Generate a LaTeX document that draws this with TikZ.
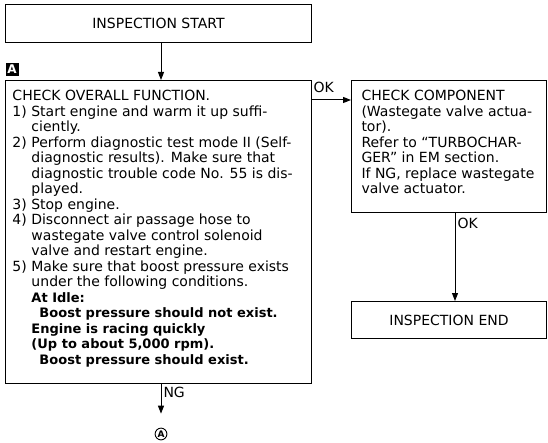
\documentclass[tikz,border=0pt]{standalone}
\usepackage{fontspec}
\setmainfont{DejaVu Sans}
\usetikzlibrary{arrows.meta}

\tikzset{
  box/.style={draw, line width=1pt, anchor=north west, inner sep=0pt,
    font=\fontsize{14}{15.5}\selectfont},
  flow/.style={line width=1pt, -{Triangle[length=8pt,width=6pt]}},
  lbl/.style={font=\fontsize{14}{15.5}\selectfont, inner sep=2pt},
}
\newcommand\hang{\hspace*{19pt}}
\newcommand\hot[1]{{\bfseries\fontsize{13}{15.5}\selectfont #1}}

\begin{document}
\begin{tikzpicture}[x=1pt,y=-1pt]
  \useasboundingbox (0,0) rectangle (548,443);
  \coordinate (tap)   at (161,0);
  \coordinate (tap2)  at (455,0);
  \coordinate (okrow) at (0,100);

  \node[box, minimum width=306pt, minimum height=38pt] at (5,4) (start) {INSPECTION START};
  \node[fill=black, text=white, font=\bfseries\fontsize{12}{12}\selectfont,
    minimum width=13pt, minimum height=13pt, inner sep=0pt] at (12,69.5) (mark) {A};
  % overall function check
  \node[box, inner xsep=7pt, inner ysep=10pt] at (5,80) (main) {\parbox[t][283pt][t]{292pt}{\raggedright
    CHECK OVERALL FUNCTION.\\
    1) Start engine and warm it up suffi-\\
    \hang ciently.\\
    2) Perform diagnostic test mode II (Self-\\
    \hang diagnostic results). Make sure that\\
    \hang diagnostic trouble code No. 55 is dis-\\
    \hang played.\\
    3) Stop engine.\\
    4) Disconnect air passage hose to\\
    \hang wastegate valve control solenoid\\
    \hang valve and restart engine.\\
    5) Make sure that boost pressure exists\\
    \hang under the following conditions.\\
    \hang\hot{At Idle:}\\
    \hang\hspace*{8pt}\hot{Boost pressure should not exist.}\\
    \hang\hot{Engine is racing quickly}\\
    \hang\hot{(Up to about 5,000 rpm).}\\
    \hang\hspace*{8pt}\hot{Boost pressure should exist.}}};
  % component check
  \node[box, inner xsep=10pt, inner ysep=10pt] at (351,80) (comp) {\parbox[t][112pt][t]{175pt}{\raggedright
    CHECK COMPONENT\\
    (Wastegate valve actua-\\
    tor).\\
    Refer to ``TURBOCHAR-\\
    GER'' in EM section.\\
    If NG, replace wastegate\\
    valve actuator.}};
  \node[box, minimum width=195pt, minimum height=37pt] at (351,301) (end) {INSPECTION END};
  \node[draw, circle, line width=0.9pt, inner sep=0.8pt,
    font=\bfseries\fontsize{9}{9}\selectfont] at (161,434) (back) {A};

  \draw[flow] (start.south -| tap) -- (main.north -| tap);
  \draw[flow] (main.east |- okrow) -- node[lbl, above=5pt, pos=0.3] {OK} (comp.west |- okrow);
  \draw[flow] (comp.south -| tap2) -- node[lbl, right, pos=0.12] {OK} (end.north -| tap2);
  \draw[flow, shorten >=14pt] (main.south -| tap) -- node[lbl, right, pos=0.2] {NG} (back);
\end{tikzpicture}
\end{document}
